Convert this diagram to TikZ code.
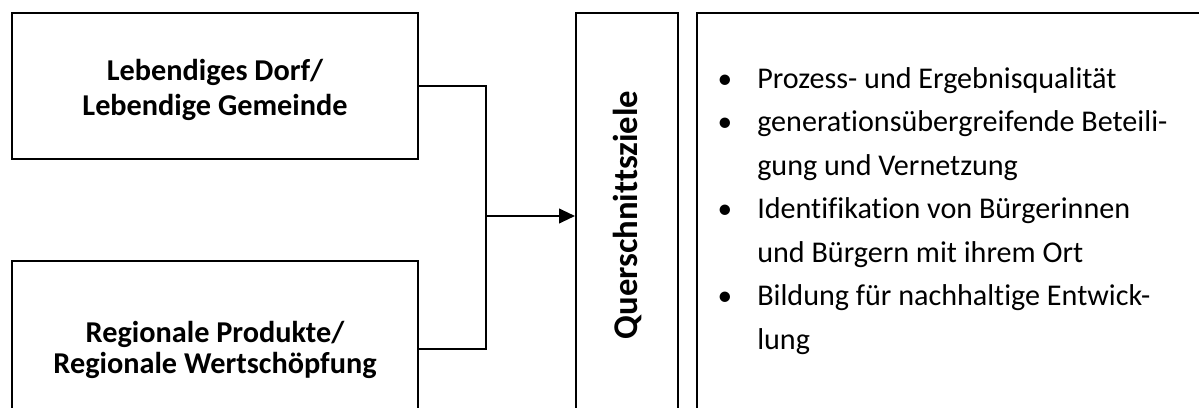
\documentclass[tikz,border=0pt]{standalone}
\usepackage{fontspec}
\setmainfont[Ligatures=NoCommon]{Carlito}
\usetikzlibrary{arrows.meta,calc}
\tikzset{
  boxstyle/.style={draw=black, line width=1.5pt, rectangle, inner sep=0pt},
  boxtext/.style={inner sep=0pt, align=center, anchor=base, font=\bfseries\fontsize{22.7}{26.25}\selectfont},
  conn/.style={draw=black, line width=1.5pt},
  listline/.style={anchor=base west, inner sep=0pt, font=\fontsize{22.6}{26}\selectfont},
  bul/.style={anchor=base, inner sep=0pt, font=\fontsize{22}{26}\selectfont}
}
\begin{document}
\begin{tikzpicture}[x=0.75pt,y=-0.75pt]
\useasboundingbox (0,0) rectangle (1199,407);
\clip (0,0) rectangle (1199,407);
\node[boxstyle, minimum width=406*0.75pt, minimum height=146*0.75pt] (top) at (215,86) {};
\node[boxtext] (toptext) at (215,115) {Lebendiges Dorf/\\Lebendige Gemeinde};
\node[boxstyle, minimum width=406*0.75pt, minimum height=176*0.75pt] (bot) at (215,349) {};
\node[boxtext, font=\bfseries\fontsize{22.7}{23.25}\selectfont] (bottext) at (215,373) {Regionale Produkte/\\Regionale Wertschöpfung};
\node[boxstyle, minimum width=102*0.75pt, minimum height=406*0.75pt] (mid) at (627,216) {};
\node[rotate=90, inner sep=0pt, font=\bfseries\fontsize{26}{30}\selectfont] (midlabel) at (628,215) {Querschnittsziele};
\node[boxstyle, minimum width=560*0.75pt, minimum height=406*0.75pt] (right) at (977,216) {};
\coordinate (j) at (486,216);
\draw[conn] (top.east) -| (j);
\draw[conn] (bot.east) -| (j);
\draw[conn, -{Triangle[length=12pt,width=11pt]}] (j) -- (mid.west |- j);
\node[bul] (b1) at (725,88) {\textbullet};
\node[listline] (l1) at (757,88) {Prozess- und Ergebnisqualität};
\node[bul] (b2) at (725,131.5) {\textbullet};
\node[listline] (l2) at (757,131.5) {generationsübergreifende Beteili-};
\node[listline] (l3) at (757,175) {gung und Vernetzung};
\node[bul] (b4) at (725,218.5) {\textbullet};
\node[listline] (l4) at (757,218.5) {Identifikation von Bürgerinnen};
\node[listline] (l5) at (757,262) {und Bürgern mit ihrem Ort};
\node[bul] (b6) at (725,305.5) {\textbullet};
\node[listline] (l6) at (757,305.5) {Bildung für nachhaltige Entwick-};
\node[listline] (l7) at (757,349) {lung};
\end{tikzpicture}
\end{document}
